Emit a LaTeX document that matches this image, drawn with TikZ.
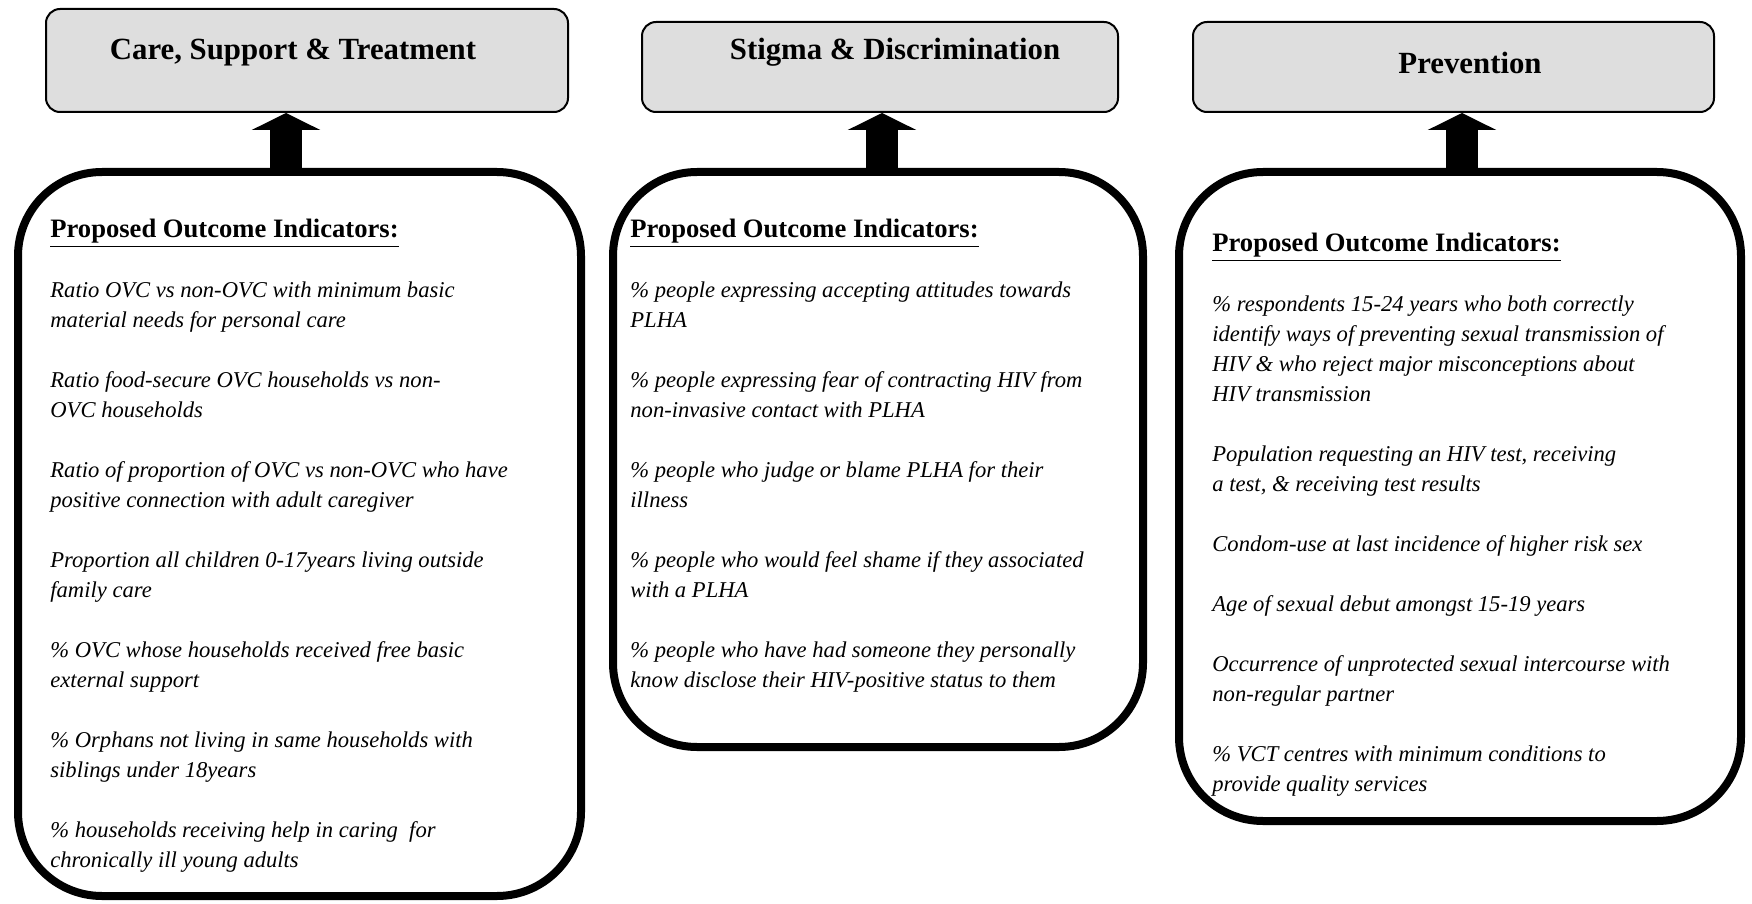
\documentclass[tikz,border=0pt]{standalone}
\usepackage{fontspec}
\setmainfont{Liberation Serif}
\usetikzlibrary{arrows.meta}
\definecolor{headgray}{gray}{0.87}
\tikzset{
  headbox/.style={draw, line width=1pt, fill=headgray, rounded corners=7pt, inner sep=0pt},
  headtxt/.style={anchor=base, font=\fontsize{15.4}{18}\selectfont\bfseries},
  bigbox/.style={draw, line width=4pt, rounded corners=42pt, inner sep=0pt},
  itemtxt/.style={anchor=north west, inner sep=0pt, align=left, font=\fontsize{11.3}{15}\selectfont\itshape},
  uparrow/.style={line width=16pt, -{Triangle[width=34pt,length=8.5pt]}}
}
\newcommand{\outcomehead}{{\fontsize{13.3}{15}\selectfont\bfseries\upshape\underline{Proposed Outcome Indicators:}}}
\begin{document}
\begin{tikzpicture}[x=0.5pt,y=-0.5pt]
  \useasboundingbox (0,0) rectangle (1752,904);

  % headers
  \node[headbox, minimum width=261pt, minimum height=51.5pt] (care) at (307,60.5) {};
  \node[headbox, minimum width=238pt, minimum height=45pt] (stigma) at (880,67) {};
  \node[headbox, minimum width=260.5pt, minimum height=45pt] (prev) at (1453.5,67) {};
  \node[headtxt] (caretxt) at (293,60) {Care, Support \& Treatment};
  \node[headtxt] (stigmatxt) at (895,60) {Stigma \& Discrimination};
  \node[headtxt] (prevtxt) at (1470,74) {Prevention};

  % indicator boxes
  \node[bigbox, minimum width=281.5pt, minimum height=362pt] (cst) at (299.5,534) {};
  \node[bigbox, minimum width=265pt, minimum height=287.5pt] (sd) at (878,459.5) {};
  \node[bigbox, minimum width=281pt, minimum height=324.5pt] (pv) at (1460,496.5) {};

  \draw[uparrow] ([xshift=-6.75pt]cst.north) -- ([xshift=-6.75pt]cst.north |- care.south);
  \draw[uparrow] ([xshift=2pt]sd.north) -- ([xshift=2pt]sd.north |- stigma.south);
  \draw[uparrow] ([xshift=1pt]pv.north) -- ([xshift=1pt]pv.north |- prev.south);

  \node[itemtxt] (cstlist) at (50,219) {\outcomehead\\[15pt]
    Ratio OVC vs non-OVC with minimum basic\\
    material needs for personal care\\[15pt]
    Ratio food-secure OVC households vs non-\\
    OVC households\\[15pt]
    Ratio of proportion of OVC vs non-OVC who have\\
    positive connection with adult caregiver\\[15pt]
    Proportion all children 0-17years living outside\\
    family care\\[15pt]
    \% OVC whose households received free basic\\
    external support\\[15pt]
    \% Orphans not living in same households with\\
    siblings under 18years\\[15pt]
    \% households receiving help in caring\ \ for\\
    chronically ill young adults};

  \node[itemtxt] (sdlist) at (630,219) {\outcomehead\\[15pt]
    \% people expressing accepting attitudes towards\\
    PLHA\\[15pt]
    \% people expressing fear of contracting HIV from\\
    non-invasive contact with PLHA\\[15pt]
    \% people who judge or blame PLHA for their\\
    illness\\[15pt]
    \% people who would feel shame if they associated\\
    with a PLHA\\[15pt]
    \% people who have had someone they personally\\
    know disclose their HIV-positive status to them};

  \node[itemtxt] (pvlist) at (1212,233) {\outcomehead\\[15pt]
    \% respondents 15-24 years who both correctly\\
    identify ways of preventing sexual transmission of\\
    HIV \& who reject major misconceptions about\\
    HIV transmission\\[15pt]
    Population requesting an HIV test, receiving\\
    a test, \& receiving test results\\[15pt]
    Condom-use at last incidence of higher risk sex\\[15pt]
    Age of sexual debut amongst 15-19 years\\[15pt]
    Occurrence of unprotected sexual intercourse with\\
    non-regular partner\\[15pt]
    \% VCT centres with minimum conditions to\\
    provide quality services};
\end{tikzpicture}
\end{document}
